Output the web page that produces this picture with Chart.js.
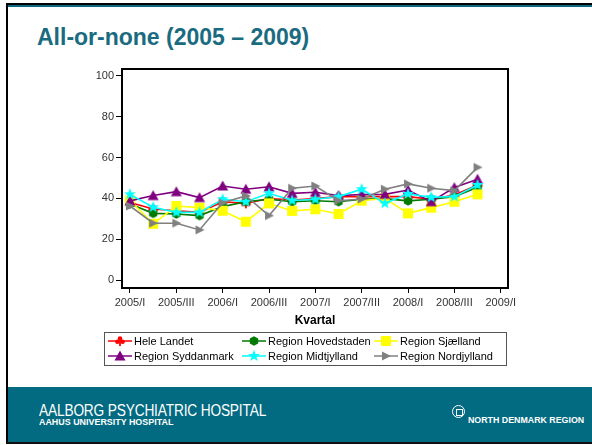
<!DOCTYPE html>
<html>
<head>
<meta charset="utf-8">
<script src="https://cdn.jsdelivr.net/npm/chart.js@4/dist/chart.umd.min.js"></script>
<style>
html,body{margin:0;padding:0;background:#fff;}
#slide{position:relative;width:592px;height:445px;overflow:hidden;background:#fff;font-family:"Liberation Sans",Arial,sans-serif;}
#topBlack{position:absolute;left:6px;top:3px;width:586px;height:2px;background:#000;}
#topTeal{position:absolute;left:8px;top:5px;width:584px;height:2px;background:#0a6a80;}
#leftBlack{position:absolute;left:6px;top:3px;width:2px;height:441px;background:#000;}
#banner{position:absolute;left:8px;top:387px;width:584px;height:55px;background:#026a81;}
#bottomBlack{position:absolute;left:6px;top:442px;width:586px;height:2px;background:#111;}
#title{position:absolute;left:37px;top:24px;font-weight:bold;font-size:23px;color:#1b6b80;white-space:nowrap;}
#b1{position:absolute;left:39px;top:402px;font-size:16px;color:#fff;white-space:nowrap;transform:scaleX(0.857);transform-origin:0 0;letter-spacing:-0.2px;}
#b2{position:absolute;left:39px;top:417px;font-size:9px;font-weight:bold;color:#fff;white-space:nowrap;transform:scaleX(0.99);transform-origin:0 0;}
#logo{position:absolute;left:452px;top:405px;width:11px;height:11px;border:1.5px solid #fff;border-radius:50%;}
#logoIn{position:absolute;left:3px;top:3px;width:5px;height:5px;border:1px solid #fff;}
#b3{position:absolute;left:468px;top:415px;font-size:9px;font-weight:bold;color:#fff;white-space:nowrap;transform:scaleX(0.98);transform-origin:0 0;}
canvas#c{position:absolute;left:0;top:0;}
</style>
</head>
<body>
<div id="slide">
  <div id="topBlack"></div><div id="topTeal"></div><div id="leftBlack"></div>
  <div id="title">All-or-none (2005 – 2009)</div>
  <canvas id="c" width="592" height="445"></canvas>
  <div id="banner"></div><div id="bottomBlack"></div>
  <div id="b1">AALBORG PSYCHIATRIC HOSPITAL</div>
  <div id="b2">AAHUS UNIVERSITY HOSPITAL</div>
  <div id="logo"><div id="logoIn"></div></div>
  <div id="b3">NORTH DENMARK REGION</div>
</div>
<script>
// ---- data ----
const quarters = ['2005/I','2005/II','2005/III','2005/IV','2006/I','2006/II','2006/III','2006/IV',
                  '2007/I','2007/II','2007/III','2007/IV','2008/I','2008/II','2008/III','2008/IV'];
const xTickLabels = ['2005/I','2005/III','2006/I','2006/III','2007/I','2007/III','2008/I','2008/III','2009/I'];
const yTickValues = [0, 20, 40, 60, 80, 100];
const xAxisTitle = 'Kvartal';

const heleLandet      = [38.0, 34.8, 34.0, 33.2, 38.4, 37.6, 40.0, 39.2, 39.9, 40.9, 40.9, 40.9, 40.9, 39.6, 41.7, 46.6];
const hovedstaden     = [37.3, 32.7, 32.4, 31.6, 36.0, 38.4, 39.6, 38.4, 38.9, 38.4, 39.6, 39.9, 38.8, 39.6, 40.9, 45.5];
const sjaelland       = [39.0, 27.6, 36.3, 35.5, 34.0, 28.6, 37.6, 33.9, 34.7, 32.4, 38.9, 40.0, 32.7, 35.5, 38.4, 42.0];
const syddanmark      = [38.8, 41.4, 43.3, 40.4, 46.1, 44.5, 45.7, 42.5, 43.0, 41.4, 41.9, 42.0, 44.1, 38.4, 45.3, 49.4];
const midtjylland     = [42.0, 35.7, 33.2, 33.2, 39.6, 38.4, 42.5, 39.0, 39.6, 40.9, 44.5, 37.6, 42.2, 40.6, 40.9, 46.6];
const nordjylland     = [36.3, 27.9, 27.9, 24.6, 37.9, 41.2, 31.6, 45.0, 46.1, 38.9, 39.7, 44.5, 47.1, 45.0, 43.8, 55.2];

const seriesNames = ['Hele Landet','Region Hovedstaden','Region Sjælland','Region Syddanmark','Region Midtjylland','Region Nordjylland'];
const seriesData = [heleLandet, hovedstaden, sjaelland, syddanmark, midtjylland, nordjylland];
const seriesColors = ['#ff0000','#007a00','#ffff00','#800080','#00ffff','#808080'];
const seriesMarkers = ['club','hexagon','square','triangle','star','arrow'];

// ---- marker images ----
function makeMarker(kind, color){
  const s = 14, c = document.createElement('canvas');
  c.width = s; c.height = s;
  const g = c.getContext('2d'), m = s/2;
  g.fillStyle = color;
  g.beginPath();
  if (kind === 'club'){
    g.arc(m, m-2.5, 2.3, 0, Math.PI*2);
    g.moveTo(m-0.3, m+0.8); g.arc(m-2.6, m+0.8, 2.3, 0, Math.PI*2);
    g.moveTo(m+4.9, m+0.8); g.arc(m+2.6, m+0.8, 2.3, 0, Math.PI*2);
    g.fill();
    g.fillRect(m-0.9, m, 1.8, 5);
    return c;
  } else if (kind === 'hexagon'){
    for (let i=0;i<6;i++){ const a = Math.PI/6 + i*Math.PI/3; g.lineTo(m+4.8*Math.cos(a), m+4.8*Math.sin(a)); }
  } else if (kind === 'square'){
    g.rect(m-5, m-5, 10, 10);
  } else if (kind === 'triangle'){
    g.moveTo(m, m-5.5); g.lineTo(m+5.5, m+4.5); g.lineTo(m-5.5, m+4.5);
  } else if (kind === 'star'){
    for (let i=0;i<10;i++){ const r = i%2 ? 2.6 : 6.2; const a = -Math.PI/2 + i*Math.PI/5; g.lineTo(m+r*Math.cos(a), m+r*Math.sin(a)); }
  } else if (kind === 'arrow'){
    g.moveTo(m+5, m); g.lineTo(m-4, m-4.5); g.lineTo(m-4, m+4.5);
  }
  g.closePath(); g.fill();
  return c;
}
const markerImgs = seriesMarkers.map((k,i)=>makeMarker(k, seriesColors[i]));

// ---- plugins ----
const framePlugin = {
  id:'frame',
  afterDatasetsDraw(chart){
    const {ctx, chartArea:a} = chart;
    ctx.save(); ctx.strokeStyle = '#000'; ctx.lineWidth = 2;
    ctx.strokeRect(a.left, a.top, a.right-a.left, a.bottom-a.top);
    ctx.restore();
  }
};
const legendPlugin = {
  id:'boxLegend',
  afterDraw(chart){
    const ctx = chart.ctx;
    ctx.save();
    ctx.strokeStyle = '#555'; ctx.lineWidth = 1;
    ctx.strokeRect(104.5, 332.5, 402, 33);
    const colX = [108, 242, 374], rowY = [341, 356];
    ctx.font = '11px "Liberation Sans", Arial, sans-serif';
    ctx.textBaseline = 'middle'; ctx.fillStyle = '#000';
    seriesNames.forEach((name, i) => {
      const x = colX[i%3], y = rowY[Math.floor(i/3)];
      ctx.strokeStyle = seriesColors[i]; ctx.lineWidth = 1.5;
      ctx.beginPath(); ctx.moveTo(x, y); ctx.lineTo(x+24, y); ctx.stroke();
      ctx.drawImage(markerImgs[i], x+12-7, y-7);
      ctx.fillStyle = '#000';
      ctx.fillText(name, x+26, y+0.5);
    });
    ctx.restore();
  }
};

const drawOrder = [5,4,3,2,1,0];
const datasets = seriesNames.map((name, i) => ({
  label: name,
  data: quarters.map((q, k) => ({x: k, y: seriesData[i][k]})),
  borderColor: seriesColors[i],
  backgroundColor: seriesColors[i],
  borderWidth: 1.6,
  pointStyle: markerImgs[i],
  pointRadius: 6,
  tension: 0,
  order: drawOrder[i]
}));

const tickFont = {family:'"Liberation Sans", Arial, sans-serif', size:11};

new Chart(document.getElementById('c'), {
  type:'line',
  data:{datasets},
  options:{
    responsive:false, animation:false,
    layout:{padding:{left:80, right:84, top:69, bottom:117}},
    plugins:{legend:{display:false}, tooltip:{enabled:false}},
    scales:{
      x:{
        type:'linear', min:-0.345, max:16.315,
        afterBuildTicks(scale){ scale.ticks = xTickLabels.map((l, i) => ({value: i*2})); },
        afterFit(scale){ scale.height = 40; },
        ticks:{ autoSkip:false, maxRotation:0, color:'#333', font:tickFont, padding:3,
          callback(v){ return xTickLabels[v/2]; } },
        grid:{display:true, drawOnChartArea:false, drawTicks:true, tickLength:5, color:'#000', lineWidth:1},
        border:{display:false},
        title:{display:true, text:xAxisTitle, color:'#000', font:{family:'"Liberation Sans", Arial, sans-serif', size:12, weight:'bold'}, padding:{top:2, bottom:0}}
      },
      y:{
        min:-3.8, max:103.3,
        afterBuildTicks(scale){ scale.ticks = yTickValues.map(v => ({value:v})); },
        afterFit(scale){ scale.width = 42; },
        ticks:{ color:'#333', font:tickFont, padding:2 },
        grid:{display:true, drawOnChartArea:false, drawTicks:true, tickLength:6, color:'#000', lineWidth:1},
        border:{display:false}
      }
    }
  },
  plugins:[framePlugin, legendPlugin]
});
</script>
</body>
</html>
